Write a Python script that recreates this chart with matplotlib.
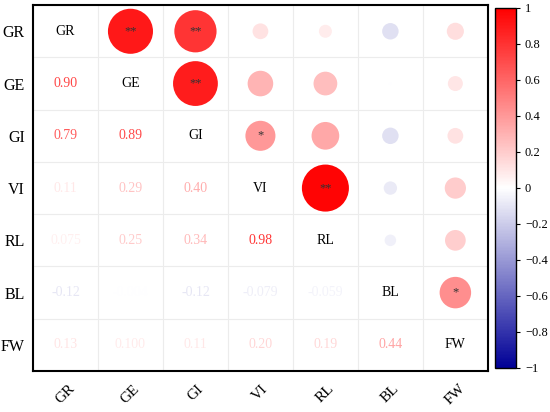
import numpy as np
import matplotlib
matplotlib.use('Agg')
import matplotlib.pyplot as plt
from matplotlib.colors import LinearSegmentedColormap, Normalize
from matplotlib.cm import ScalarMappable
from matplotlib.ticker import FuncFormatter

plt.rcParams['font.family'] = ['Liberation Serif', 'DejaVu Serif']

# variables
labels = ['GR', 'GE', 'GI', 'VI', 'RL', 'BL', 'FW']

# lower triangle of the correlation matrix, row by row
r_GE = [0.90]
r_GI = [0.79, 0.89]
r_VI = [0.11, 0.29, 0.40]
r_RL = [0.075, 0.25, 0.34, 0.98]
r_BL = [-0.12, -0.004, -0.12, -0.079, -0.059]
r_FW = [0.13, 0.0999, 0.11, 0.20, 0.19, 0.44]
lower_rows = [[], r_GE, r_GI, r_VI, r_RL, r_BL, r_FW]

# significance marks (row, col) in upper triangle
sig_pairs = [(0, 1), (0, 2), (1, 2), (2, 3), (3, 4), (5, 6)]
sig_marks = ['**', '**', '**', '*', '**', '*']

n = len(labels)
R = np.eye(n)
for i, row in enumerate(lower_rows):
    for j, v in enumerate(row):
        R[i, j] = v
        R[j, i] = v

cmap = LinearSegmentedColormap.from_list('bwr2', ['#000096', '#ffffff', '#ff0000'])
norm = Normalize(-1, 1)


def fmt(v):
    if abs(v) < 0.1:
        return f'{v:.3f}'
    return f'{v:.2f}'


fig = plt.figure(figsize=(5.5, 4.12), dpi=100)
ax = fig.add_axes([0.06, 0.0995, 0.827, 0.888])
cax = fig.add_axes([0.9, 0.107, 0.038, 0.874])

# grid
for k in range(n + 1):
    ax.axhline(k - 0.5, color='#ececec', lw=0.8, zorder=0)
    ax.axvline(k - 0.5, color='#ececec', lw=0.8, zorder=0)

# upper triangle: circles
xs, ys, ss, cs = [], [], [], []
for i in range(n):
    for j in range(i + 1, n):
        xs.append(j)
        ys.append(i)
        ss.append(1170 * abs(R[i, j]))
        cs.append(cmap(norm(R[i, j])))
ax.scatter(xs, ys, s=ss, c=cs, linewidths=0, zorder=2)

for (i, j), m in zip(sig_pairs, sig_marks):
    ax.text(j, i, m, ha='center', va='center', fontsize=9, color='#333333', zorder=3)

# lower triangle: numbers, diagonal: names
for i in range(n):
    ax.text(i, i, labels[i], ha='center', va='center', fontsize=10, color='black')
    for j in range(i):
        ax.text(j, i, fmt(R[i, j]), ha='center', va='center', fontsize=10,
                color=cmap(norm(R[i, j])), alpha=0.8)

ax.set_xlim(-0.5, n - 0.5)
ax.set_ylim(n - 0.5, -0.5)
ax.set_xticks(range(n))
ax.set_yticks(range(n))
ax.set_xticklabels(labels, rotation=45, ha='center', fontsize=11)
ax.set_yticklabels(labels, fontsize=11.5)
ax.tick_params(axis='y', length=0, pad=6)
ax.tick_params(axis='x', length=0, pad=8)
for sp in ax.spines.values():
    sp.set_linewidth(1.5)

# colorbar
sm = ScalarMappable(norm=norm, cmap=cmap)
cb = fig.colorbar(sm, cax=cax, ticks=np.linspace(-1, 1, 11))
cb.ax.yaxis.set_major_formatter(FuncFormatter(lambda v, p: f'{v:g}'.replace('-', '\u2212')))
cb.ax.tick_params(labelsize=9, length=3, width=0.8)
cb.outline.set_linewidth(1)

fig.savefig('out.png', dpi=100)
